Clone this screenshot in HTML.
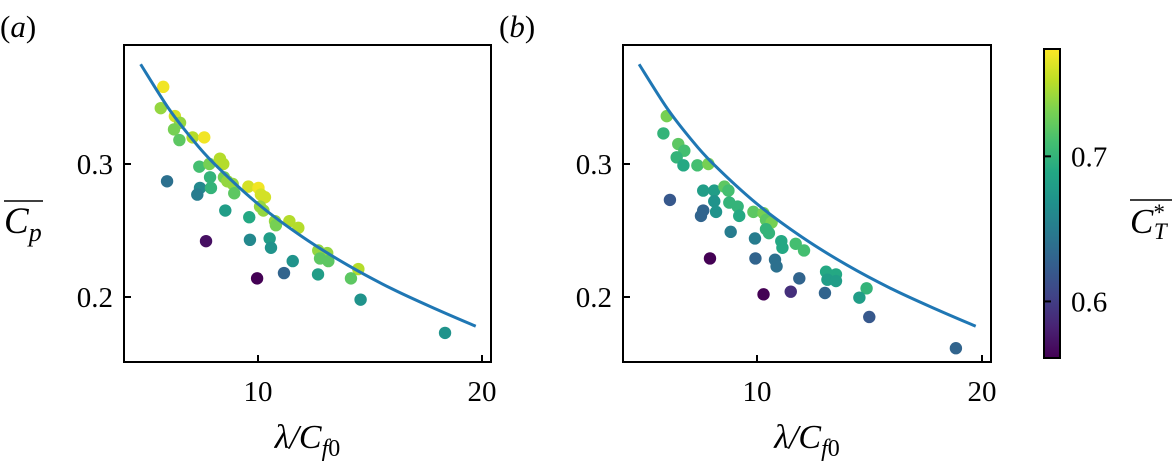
<!DOCTYPE html>
<html><head><meta charset="utf-8"><style>
body{margin:0;background:#fff;}
svg{display:block;}
svg text{font-family:"Liberation Serif","DejaVu Serif",serif;}
</style></head><body>
<svg id="fig" width="1175" height="468" viewBox="0 0 1175 468" font-family="Liberation Serif, serif"></svg>
<script>
// ---- data ----
const aX=[5.77,5.66,6.29,6.52,6.25,6.49,7.08,7.60,5.94,7.38,7.83,8.30,8.45,7.86,8.48,8.63,8.87,7.41,7.90,7.29,8.94,9.57,10.02,10.13,10.31,10.09,10.24,8.54,9.61,10.76,10.80,11.40,11.80,7.68,9.64,10.52,10.58,11.55,11.16,9.96,12.68,12.69,13.09,12.77,13.14,14.48,14.15,14.58,18.35];
const aY=[0.358,0.342,0.336,0.331,0.326,0.318,0.320,0.320,0.287,0.298,0.300,0.304,0.300,0.290,0.290,0.287,0.285,0.282,0.282,0.277,0.278,0.283,0.282,0.277,0.275,0.268,0.265,0.265,0.260,0.257,0.254,0.257,0.252,0.242,0.243,0.244,0.237,0.227,0.218,0.214,0.217,0.235,0.233,0.229,0.227,0.221,0.214,0.198,0.173];
const aC=[0.77,0.74,0.76,0.74,0.73,0.72,0.75,0.77,0.64,0.71,0.73,0.75,0.75,0.70,0.73,0.74,0.74,0.66,0.70,0.65,0.72,0.76,0.77,0.76,0.76,0.74,0.74,0.68,0.69,0.74,0.73,0.75,0.75,0.57,0.66,0.68,0.67,0.67,0.63,0.56,0.68,0.74,0.74,0.72,0.72,0.75,0.72,0.67,0.67];
const bX=[5.99,5.84,6.50,6.77,6.43,6.73,7.35,7.84,6.13,7.61,8.10,8.55,8.73,8.10,8.77,9.14,8.18,7.61,7.51,9.21,9.84,10.29,10.40,10.65,10.40,10.53,8.83,9.91,11.08,11.13,11.72,12.09,7.91,9.93,10.80,10.87,11.88,13.07,13.51,13.13,13.51,10.29,11.50,13.02,14.87,14.55,14.99,18.84];
const bY=[0.336,0.323,0.315,0.310,0.305,0.299,0.299,0.300,0.273,0.280,0.280,0.283,0.280,0.272,0.271,0.268,0.264,0.265,0.261,0.261,0.264,0.263,0.258,0.256,0.251,0.248,0.249,0.244,0.242,0.237,0.240,0.235,0.229,0.229,0.228,0.223,0.214,0.219,0.217,0.213,0.212,0.202,0.204,0.203,0.2065,0.1995,0.185,0.1615];
const bC=[0.73,0.70,0.72,0.71,0.70,0.69,0.71,0.73,0.62,0.68,0.68,0.72,0.71,0.67,0.70,0.70,0.67,0.63,0.63,0.69,0.72,0.73,0.72,0.73,0.70,0.70,0.65,0.65,0.69,0.69,0.71,0.71,0.56,0.63,0.64,0.64,0.63,0.69,0.69,0.68,0.68,0.56,0.59,0.63,0.70,0.68,0.62,0.63];
const curveX=[4.76,6,7,8,10,12,14,16,18,19.72];
const curveY=[0.375,0.342,0.320,0.301,0.270,0.245,0.224,0.206,0.1905,0.178];
const xTicks=[10,20];
const yTicks=[0.2,0.3];
const cTicks=[0.6,0.7];
const cMin=0.561,cMax=0.774;

const NS="http://www.w3.org/2000/svg";
const svg=document.getElementById('fig');
const FONT='"Liberation Serif", "DejaVu Serif", serif';
function mk(tag,attrs,parent){const e=document.createElementNS(NS,tag);for(const k in attrs)e.setAttribute(k,attrs[k]);if(tag==='text')e.style.fontFamily=FONT;(parent||svg).appendChild(e);return e;}
const vir=[[68,1,84],[72,35,116],[64,67,135],[52,94,141],[41,120,142],[32,144,140],[34,167,132],[68,190,112],[121,209,81],[189,222,38],[253,231,37]];
function viridis(t){t=Math.max(0,Math.min(1,t));const s=t*(vir.length-1);const i=Math.min(vir.length-2,Math.floor(s));const f=s-i;const c=vir[i].map((v,k)=>Math.round(v+(vir[i+1][k]-v)*f));return `rgb(${c[0]},${c[1]},${c[2]})`;}
function cnorm(v){return (v-cMin)/(cMax-cMin);}

function panel(name,left,right,x10,pxPerUnit,X,Y,C,label){
  const top=45,bottom=362;
  const xs=v=>x10+(v-10)*pxPerUnit;
  const ys=v=>297-(v-0.2)*1330;
  const g=mk('g',{});
  
  
  for(let i=0;i<X.length;i++){
    const c=mk('circle',{cx:xs(X[i]),cy:ys(Y[i]),r:6.2,fill:viridis(cnorm(C[i]))},g);
    
    
  }
  const pts=curveX.map((v,i)=>[xs(v),ys(curveY[i])]);
  let d='M'+pts[0][0]+','+pts[0][1];
  for(let i=0;i<pts.length-1;i++){
    const p0=pts[Math.max(0,i-1)],p1=pts[i],p2=pts[i+1],p3=pts[Math.min(pts.length-1,i+2)];
    const c1=[p1[0]+(p2[0]-p0[0])/6,p1[1]+(p2[1]-p0[1])/6];
    const c2=[p2[0]-(p3[0]-p1[0])/6,p2[1]-(p3[1]-p1[1])/6];
    d+=` C${c1[0]},${c1[1]} ${c2[0]},${c2[1]} ${p2[0]},${p2[1]}`;
  }
  const cv=mk('path',{d:d,fill:'none',stroke:'#1f77b4',"stroke-width":3},g);
  
  
  const fr=mk('rect',{x:left,y:top,width:right-left,height:bottom-top,fill:'none',stroke:'#000',"stroke-width":2},g);
  
  
  xTicks.forEach(t=>{
    const x=xs(t);
    mk('line',{x1:x,y1:bottom,x2:x,y2:bottom-7,stroke:'#000',"stroke-width":2},g);
    const tx=mk('text',{x:x,y:401,"font-size":29,"text-anchor":"middle"},g);tx.textContent=t;
    
    
  });
  yTicks.forEach(t=>{
    const y=ys(t);
    mk('line',{x1:left,y1:y,x2:left+7,y2:y,stroke:'#000',"stroke-width":2},g);
    const tx=mk('text',{x:left-11,y:y+10,"font-size":29,"text-anchor":"end"},g);tx.textContent=t.toFixed(1);
    
    
  });
  const xl=mk('text',{x:(left+right)/2,y:448,"font-size":34,"text-anchor":"middle","font-style":"italic"},g);
  xl.innerHTML='λ/C<tspan font-size="24" dy="8">f</tspan><tspan font-size="24" font-style="normal">0</tspan>';
  
  
  const pl=mk('text',{x:left-124,y:37,"font-size":31},g);
  pl.innerHTML='(<tspan font-style="italic">'+label+'</tspan>)';
  
  
}
panel('a',124,491,258,22.4,aX,aY,aC,'a');
panel('b',623,991,757,22.5,bX,bY,bC,'b');

const yl=mk('text',{x:4,y:233,"font-size":37,"font-style":"italic"});
yl.innerHTML='C<tspan font-size="26" dy="8">p</tspan>';


mk('line',{x1:4,y1:201,x2:43,y2:201,stroke:'#000',"stroke-width":1.5});

const defs=mk('defs',{});
const lg=mk('linearGradient',{id:'vg',x1:0,y1:1,x2:0,y2:0},defs);
for(let i=0;i<=20;i++){mk('stop',{offset:i/20,"stop-color":viridis(i/20)},lg);}
const cbTop=49,cbBot=358,cbL=1044,cbR=1060;
const cb=mk('rect',{x:cbL,y:cbTop,width:cbR-cbL,height:cbBot-cbTop,fill:'url(#vg)',stroke:'#000',"stroke-width":2});


const cy=v=>cbBot-(v-cMin)/(cMax-cMin)*(cbBot-cbTop);
cTicks.forEach(t=>{
  mk('line',{x1:cbL,y1:cy(t),x2:cbL+7,y2:cy(t),stroke:'#000',"stroke-width":2});
  const tx=mk('text',{x:1071,y:cy(t)+10,"font-size":29},svg);tx.textContent=t.toFixed(1);
  
  
});
const ct=mk('text',{x:1130,y:233,"font-size":35,"font-style":"italic"});
ct.innerHTML='C<tspan font-size="23" dx="-1" dy="-13">*</tspan><tspan font-size="23" dx="-10" dy="19">T</tspan>';


mk('line',{x1:1130,y1:200,x2:1172,y2:200,stroke:'#000',"stroke-width":1.5});
</script>
</body></html>
